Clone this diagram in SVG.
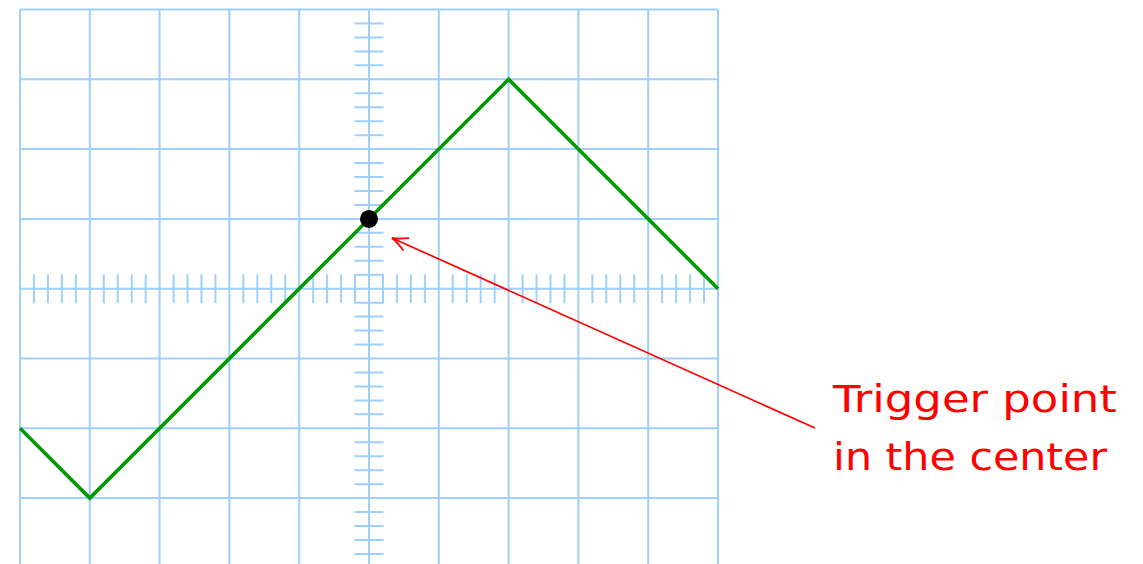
<svg xmlns="http://www.w3.org/2000/svg" width="1143" height="564" viewBox="0 0 1143 564">
<style>
.grid{stroke:#9fcffc;stroke-width:2;fill:none}
.wave{stroke:#009900;stroke-width:3.6;fill:none;stroke-linejoin:miter}
.ann{stroke:#ff0000;stroke-width:1.7;fill:none}
.lbl{font-family:"DejaVu Sans",sans-serif;font-size:37px;fill:#ff0000}
</style>
<defs>
<marker id="arr" markerUnits="userSpaceOnUse" markerWidth="30" markerHeight="30" refX="0" refY="0" viewBox="-20 -15 30 30" orient="auto">
<path d="M-15,-6.5 Q-6,-1.5 0,0 Q-6,1.5 -15,6.5" stroke="#ff0000" stroke-width="1.8" fill="none" stroke-linecap="round"/>
</marker>
</defs>
<g id="graticule">
<path class="grid" d="M20 9.5V568M89.8 9.5V568M159.6 9.5V568M229.4 9.5V568M299.2 9.5V568M369 9.5V568M438.8 9.5V568M508.6 9.5V568M578.4 9.5V568M648.2 9.5V568M718 9.5V568
M20 9.5H718M20 79.3H718M20 149.1H718M20 218.9H718M20 288.7H718M20 358.5H718M20 428.3H718M20 498.1H718"/>
<path class="grid" d="M33.96 274.2v29M47.92 274.2v29M61.88 274.2v29M75.84 274.2v29
M103.76 274.2v29M117.72 274.2v29M131.68 274.2v29M145.64 274.2v29
M173.56 274.2v29M187.52 274.2v29M201.48 274.2v29M215.44 274.2v29
M243.36 274.2v29M257.32 274.2v29M271.28 274.2v29M285.24 274.2v29
M313.16 274.2v29M327.12 274.2v29M341.08 274.2v29M355.04 274.2v29
M382.96 274.2v29M396.92 274.2v29M410.88 274.2v29M424.84 274.2v29
M452.76 274.2v29M466.72 274.2v29M480.68 274.2v29M494.64 274.2v29
M522.56 274.2v29M536.52 274.2v29M550.48 274.2v29M564.44 274.2v29
M592.36 274.2v29M606.32 274.2v29M620.28 274.2v29M634.24 274.2v29
M662.16 274.2v29M676.12 274.2v29M690.08 274.2v29M704.04 274.2v29"/>
<path class="grid" d="M354.5 23.46h29M354.5 37.42h29M354.5 51.38h29M354.5 65.34h29
M354.5 93.26h29M354.5 107.22h29M354.5 121.18h29M354.5 135.14h29
M354.5 163.06h29M354.5 177.02h29M354.5 190.98h29M354.5 204.94h29
M354.5 232.86h29M354.5 246.82h29M354.5 260.78h29M354.5 274.74h29
M354.5 302.66h29M354.5 316.62h29M354.5 330.58h29M354.5 344.54h29
M354.5 372.46h29M354.5 386.42h29M354.5 400.38h29M354.5 414.34h29
M354.5 442.26h29M354.5 456.22h29M354.5 470.18h29M354.5 484.14h29
M354.5 512.06h29M354.5 526.02h29M354.5 539.98h29M354.5 553.94h29"/>
</g>
<g id="waveform">
<polyline class="wave" points="20,428.3 89.8,498.1 508.6,79.3 718,288.7"/>
</g>
<g id="trigger-point">
<circle cx="369" cy="218.9" r="9" fill="#000"/>
</g>
<g id="connectors">
<line class="ann" x1="815" y1="428" x2="392" y2="238" marker-end="url(#arr)"/>
</g>
<g id="label">
<text class="lbl" x="833" y="412" textLength="284" lengthAdjust="spacingAndGlyphs">Trigger point</text>
<text class="lbl" x="833" y="470" textLength="274" lengthAdjust="spacingAndGlyphs">in the center</text>
</g>
</svg>
